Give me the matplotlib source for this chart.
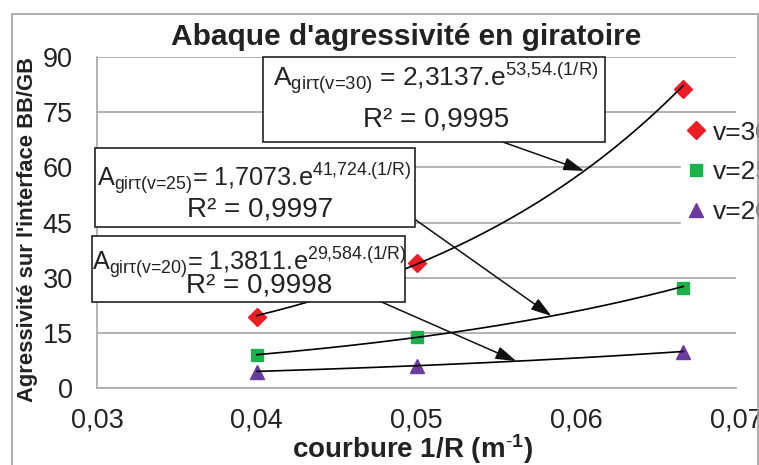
import numpy as np
import matplotlib
matplotlib.use("Agg")
import matplotlib.pyplot as plt
from matplotlib.patches import Rectangle

plt.rcParams['font.family'] = ['Liberation Sans', 'DejaVu Sans']
plt.rcParams['mathtext.fontset'] = 'custom'
plt.rcParams['mathtext.rm'] = 'Liberation Sans'
plt.rcParams['mathtext.it'] = 'Liberation Sans:italic'
plt.rcParams['mathtext.bf'] = 'Liberation Sans:bold'

# Data
courbure = [0.04, 0.05, 0.0667]
agr_v30 = [19.2, 34.0, 81.3]
agr_v25 = [9.0, 13.8, 27.3]
agr_v20 = [4.4, 5.9, 9.7]

# exponential trend lines (coefficients from the labels)
coef_a = [2.3137, 1.7073, 1.3811]
coef_b = [53.54, 41.724, 29.584]
r2 = ["0,9995", "0,9997", "0,9998"]
labels = ["v=30", "v=25", "v=20"]
colors = ["#EE1C25", "#1DB14B", "#6B3A9E"]
markers = ["D", "s", "^"]
msizes = [9, 8, 10]

W, H = 759, 465
fig = plt.figure(figsize=(W / 100, H / 100), dpi=100)

def px(x, y):
    # pixel from top-left -> figure fraction
    return (x / W, 1 - y / H)

# chart area border
fig.patches.append(Rectangle(px(12, 475), (758 - 12) / W, (475 - 14) / H,
                             transform=fig.transFigure, fill=False,
                             edgecolor="#A0A0A0", lw=1.2))

ax = fig.add_axes([97 / W, 1 - 388 / H, (736 - 97) / W, (388 - 57) / H])

series = [agr_v30, agr_v25, agr_v20]
for i, yv in enumerate(series):
    ax.plot(courbure, yv, linestyle="none", marker=markers[i], ms=msizes[i],
            color=colors[i], label=labels[i], zorder=3)
    xf = np.linspace(courbure[0], courbure[-1], 200)
    ax.plot(xf, coef_a[i] * np.exp(coef_b[i] * xf), color="k", lw=1.2, zorder=4)

ax.set_xlim(0.03, 0.07)
ax.set_ylim(0, 90)
ax.set_xticks([0.03, 0.04, 0.05, 0.06, 0.07])
ax.set_xticklabels(["0,03", "0,04", "0,05", "0,06", "0,07"])
ax.set_yticks(range(0, 91, 15))
ax.tick_params(length=0, labelsize=19.5, colors="#222222")
ax.tick_params(axis="y", pad=17.5)
ax.tick_params(axis="x", pad=14)
ax.grid(axis="y", color="#A6A6A6", lw=1.2)
ax.set_axisbelow(True)
for s in ["top", "right"]:
    ax.spines[s].set_visible(False)
for s in ["left", "bottom"]:
    ax.spines[s].set_color("#A6A6A6")
    ax.spines[s].set_linewidth(1.2)

fig.text(*px(412, 449), "courbure 1/R (m$^{\\mathbf{\\text{-}1}}$)", fontsize=20,
         fontweight="bold", color="#222222", ha="center", va="center")
fig.text(*px(28, 230), "Agressivité sur l'interface BB/GB", fontsize=15.8,
         fontweight="bold", color="#222222", ha="center", va="center", rotation=90)
fig.text(*px(406, 37), "Abaque d'agressivité en giratoire", fontsize=21.5,
         fontweight="bold", color="#222222", ha="center", va="center")

leg = ax.legend(loc="upper left", bbox_to_anchor=px(681, 114), bbox_transform=fig.transFigure,
                frameon=True, fancybox=False, edgecolor="white", framealpha=1,
                fontsize=19, handlelength=0.6, handletextpad=0.35, labelspacing=0.6,
                borderpad=0.25, borderaxespad=0)
for t in leg.get_texts():
    t.set_color("#222222")

# label boxes with leader arrows
boxes = [(263, 57, 605, 142), (95, 148, 415, 227), (92, 236, 405, 302)]
lines1 = [(436, 78), (254, 178), (249, 262)]
lines2 = [(436, 119), (260, 209), (259, 285)]
line1_size = [19, 18.2, 18.2]
arrow_from = [(500, 141), (413, 218), (377, 300)]
arrow_x = [0.0605, 0.05845, 0.05625]
vtags = ["30", "25", "20"]
coef_txt = [("2,3137", "53,54"), ("1,7073", "41,724"), ("1,3811", "29,584")]
eq_sep = [" = ", "= ", "= "]

for i in range(3):
    x0, y0, x1, y1 = boxes[i]
    fig.patches.append(Rectangle(px(x0, y1), (x1 - x0) / W, (y1 - y0) / H,
                                 transform=fig.transFigure, facecolor="white",
                                 edgecolor="#222222", lw=1.2, zorder=5))
    s = ("A$_{\\text{girτ(v=" + vtags[i] + ")}}$" + eq_sep[i] + coef_txt[i][0]
         + ".e$^{\\text{" + coef_txt[i][1] + ".(1/R)}}$")
    fig.text(*px(*lines1[i]), s, fontsize=line1_size[i], ha="center", va="center",
             color="#222222", zorder=6)
    fig.text(*px(*lines2[i]), "R² = " + r2[i], fontsize=20, ha="center", va="center",
             color="#222222", zorder=6)
    xa = arrow_x[i]
    ya = coef_a[i] * np.exp(coef_b[i] * xa)
    ax.annotate("", xy=(xa, ya), xycoords="data", xytext=px(*arrow_from[i]),
                textcoords="figure fraction",
                arrowprops=dict(arrowstyle="-|>,head_length=0.7,head_width=0.22",
                                color="#111111", lw=1.1,
                                mutation_scale=18, shrinkA=0, shrinkB=0), zorder=5)

fig.savefig("out.png", dpi=100)
